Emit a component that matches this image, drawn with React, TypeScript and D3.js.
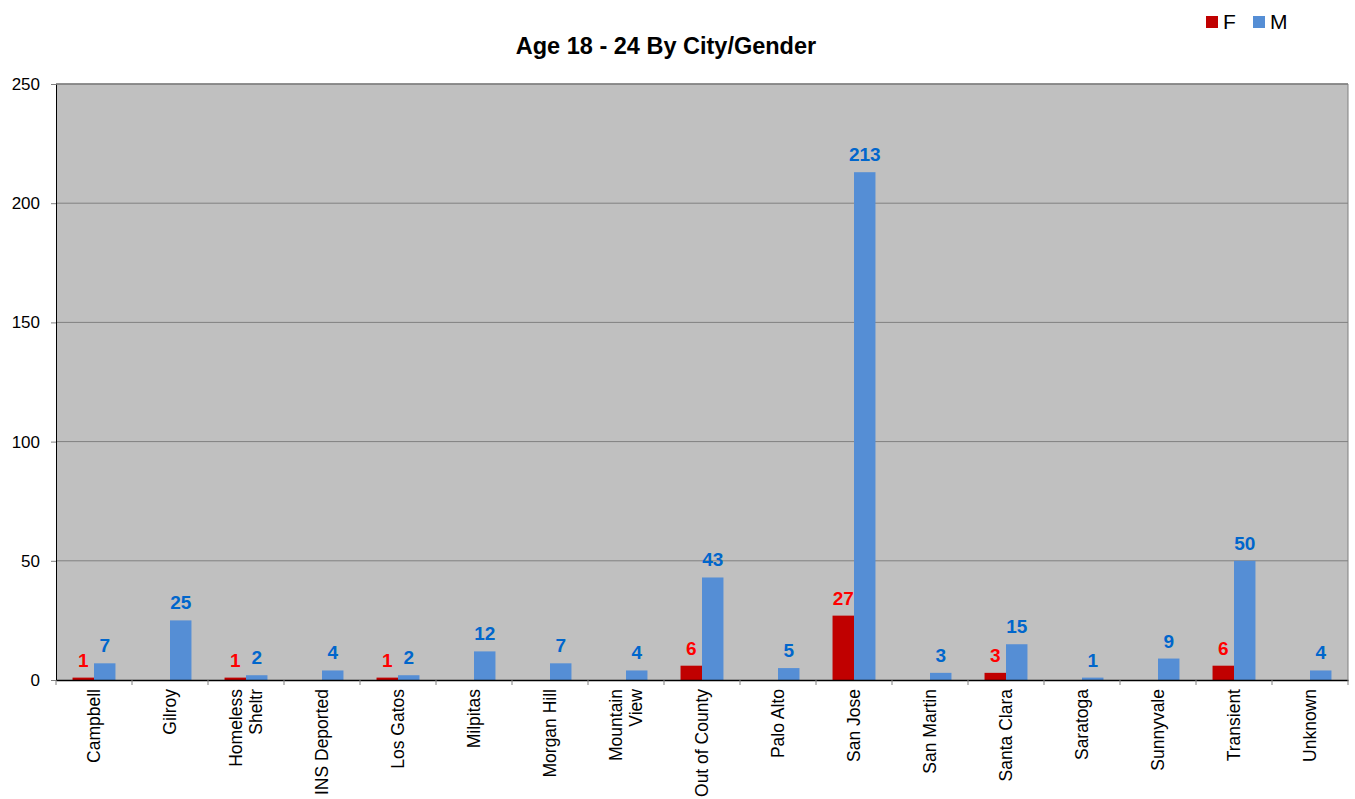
import React, { useEffect, useRef } from 'react';
import * as d3 from 'd3';

// chart values
const cities = [
  'Campbell',
  'Gilroy',
  'Homeless Sheltr',
  'INS Deported',
  'Los Gatos',
  'Milpitas',
  'Morgan Hill',
  'Mountain View',
  'Out of County',
  'Palo Alto',
  'San Jose',
  'San Martin',
  'Santa Clara',
  'Saratoga',
  'Sunnyvale',
  'Transient',
  'Unknown',
];
// how the category labels wrap
const cityLines: Record<string, string[]> = {
  'Homeless Sheltr': ['Homeless', 'Sheltr'],
  'Mountain View': ['Mountain', 'View'],
};
const female = [1, 0, 1, 0, 1, 0, 0, 0, 6, 0, 27, 0, 3, 0, 0, 6, 0];
const male = [7, 25, 2, 4, 2, 12, 7, 4, 43, 5, 213, 3, 15, 1, 9, 50, 4];
const yTicks = [0, 50, 100, 150, 200, 250];
const genders = ['F', 'M'];

const barColors: Record<string, string> = { F: '#C00000', M: '#558ED5' };
const labelColors: Record<string, string> = { F: '#FF0000', M: '#0066CC' };

const W = 1355;
const H = 799;
const margin = { top: 84, right: 7, bottom: 119, left: 56 };

const App = () => {
  const svgRef = useRef<SVGSVGElement>(null);

  useEffect(() => {
    const svg = d3.select(svgRef.current);
    svg.selectAll('*').remove();
    const font = 'Arial, "Liberation Sans", sans-serif';
    const innerW = W - margin.left - margin.right;
    const innerH = H - margin.top - margin.bottom;

    const x0 = d3.scaleBand().domain(cities).range([0, innerW]).paddingInner(0).paddingOuter(0);
    const x1 = d3.scaleBand().domain(genders).range([0, x0.bandwidth()]).paddingInner(0).paddingOuter(0.77);
    const y = d3.scaleLinear().domain([0, 250]).range([innerH, 0]);

    const rows = cities.map((c, i) => ({ city: c, F: female[i], M: male[i] }));

    const g = svg.append('g').attr('transform', `translate(${margin.left},${margin.top})`);

    g.append('rect')
      .attr('width', innerW)
      .attr('height', innerH)
      .attr('fill', '#C0C0C0');

    // gridlines
    g.selectAll('.grid')
      .data(yTicks.filter((t) => t > 0))
      .join('line')
      .attr('x1', 0)
      .attr('x2', innerW)
      .attr('y1', (d) => y(d))
      .attr('y2', (d) => y(d))
      .attr('stroke', '#808080')
      .attr('stroke-width', 1);

    // bars
    const group = g
      .selectAll('.city')
      .data(rows)
      .join('g')
      .attr('transform', (d) => `translate(${x0(d.city)},0)`);

    group
      .selectAll('rect')
      .data((d) => genders.map((k) => ({ key: k, value: (d as any)[k] as number })))
      .join('rect')
      .attr('x', (d) => x1(d.key)!)
      .attr('width', x1.bandwidth())
      .attr('y', (d) => y(d.value))
      .attr('height', (d) => innerH - y(d.value))
      .attr('fill', (d) => barColors[d.key]);

    group
      .selectAll('text')
      .data((d) =>
        genders.map((k) => ({ key: k, value: (d as any)[k] as number })).filter((d) => d.value > 0)
      )
      .join('text')
      .attr('x', (d) => x1(d.key)! + x1.bandwidth() / 2)
      .attr('y', (d) => y(d.value) - 11)
      .attr('text-anchor', 'middle')
      .attr('font-family', font)
      .attr('font-weight', 'bold')
      .attr('font-size', 19)
      .attr('fill', (d) => labelColors[d.key])
      .text((d) => d.value);

    // y axis
    const yAxis = d3.axisLeft(y).tickValues(yTicks).tickSize(5).tickPadding(11);
    const ya = g.append('g').call(yAxis);
    ya.select('.domain').attr('stroke', '#000');
    ya.selectAll('.tick line').attr('stroke', '#808080');
    ya.selectAll('text').attr('font-family', font).attr('font-size', 17).attr('fill', '#000');

    // x axis
    const xAxis = d3.axisBottom(x0).tickSize(0).tickFormat(() => '');
    const xa = g.append('g').attr('transform', `translate(0,${innerH})`).call(xAxis);
    xa.select('.domain').attr('stroke', '#000').attr('stroke-width', 1.5);
    xa.selectAll('.tick').remove();

    const sep = d3.range(cities.length + 1).map((i) => i * x0.bandwidth());
    xa.selectAll('.sep')
      .data(sep)
      .join('line')
      .attr('x1', (d) => d)
      .attr('x2', (d) => d)
      .attr('y1', 0)
      .attr('y2', 5)
      .attr('stroke', '#808080');

    const lbl = xa
      .selectAll('.clabel')
      .data(cities)
      .join('text')
      .attr('transform', (d) => `translate(${x0(d)! + x0.bandwidth() / 2},${9}) rotate(-90)`)
      .attr('text-anchor', 'end')
      .attr('font-family', font)
      .attr('font-size', 17.5)
      .attr('fill', '#000');
    lbl.each(function (d) {
      const lines = cityLines[d] || [d];
      const t = d3.select(this);
      const off = lines.length === 1 ? 0.35 : -0.25;
      lines.forEach((ln, i) => {
        t.append('tspan')
          .attr('x', 0)
          .attr('dy', i === 0 ? `${off}em` : '1.15em')
          .text(ln);
      });
    });

    // top / right border
    g.append('line')
      .attr('x1', 0)
      .attr('x2', innerW)
      .attr('y1', 0)
      .attr('y2', 0)
      .attr('stroke', '#808080')
      .attr('stroke-width', 1.5);
    g.append('line')
      .attr('x1', innerW)
      .attr('x2', innerW)
      .attr('y1', 0)
      .attr('y2', innerH)
      .attr('stroke', '#808080');

    // title
    svg
      .append('text')
      .attr('x', 666)
      .attr('y', 54)
      .attr('text-anchor', 'middle')
      .attr('font-family', font)
      .attr('font-weight', 'bold')
      .attr('font-size', 23.5)
      .text('Age 18 - 24 By City/Gender');

    // legend
    const leg = svg
      .selectAll('.legend')
      .data(genders)
      .join('g')
      .attr('transform', (d, i) => `translate(${1206 + i * 47},16)`);
    leg.append('rect').attr('width', 12).attr('height', 12).attr('fill', (d) => barColors[d]);
    leg
      .append('text')
      .attr('x', 17)
      .attr('y', 13)
      .attr('font-family', font)
      .attr('font-size', 21)
      .text((d) => d);
  }, []);

  return (
    <svg ref={svgRef} width={W} height={H} style={{ position: 'absolute', left: 0, top: 0 }} />
  );
};

export default App;
